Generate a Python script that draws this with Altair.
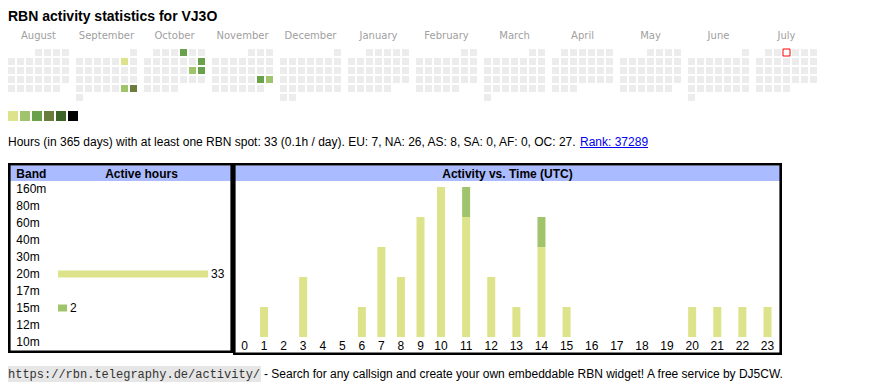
import datetime as dt
import altair as alt
import pandas as pd

# ---------------- data ----------------
TITLE = "RBN activity statistics for VJ3O"
months = ["August", "September", "October", "November", "December", "January",
          "February", "March", "April", "May", "June", "July"]
month_years = [2024, 2024, 2024, 2024, 2024, 2025, 2025, 2025, 2025, 2025, 2025, 2025]
month_numbers = [8, 9, 10, 11, 12, 1, 2, 3, 4, 5, 6, 7]
active_dates = ["2024-09-07", "2024-09-28", "2024-09-29", "2024-10-04", "2024-10-13",
                "2024-10-19", "2024-10-20", "2024-11-23", "2024-11-24"]
active_levels = [1, 2, 4, 3, 3, 2, 3, 3, 2]
today = "2025-07-03"
levels = [0, 1, 2, 3, 4, 5, 6]
level_colors = ["#ececec", "#dce38b", "#a0c46c", "#69a24a", "#6a7d3a", "#3d6428", "#000000"]

stats_text = ("Hours (in 365 days) with at least one RBN spot: 33 (0.1h / day). "
              "EU: 7, NA: 26, AS: 8, SA: 0, AF: 0, OC: 27.")
rank_text = "Rank: 37289"

bands = ["160m", "80m", "60m", "40m", "30m", "20m", "17m", "15m", "12m", "10m"]
band_hours = [0, 0, 0, 0, 0, 33, 0, 2, 0, 0]
bar_bands = ["20m", "15m"]
bar_band_colors = ["#dce38b", "#a0c46c"]

hours = [0, 1, 2, 3, 4, 5, 6, 7, 8, 9, 10, 11, 12, 13, 14, 15, 16, 17, 18, 19, 20, 21, 22, 23]
hours_20m = [0, 1, 0, 2, 0, 0, 1, 3, 2, 4, 5, 4, 2, 1, 3, 1, 0, 0, 0, 0, 1, 1, 1, 1]
hours_15m = [0, 0, 0, 0, 0, 0, 0, 0, 0, 0, 0, 1, 0, 0, 1, 0, 0, 0, 0, 0, 0, 0, 0, 0]

footer_url = "https://rbn.telegraphy.de/activity/"
footer_text = "- Search for any callsign and create your own embeddable RBN widget! A free service by DJ5CW."

FONT = "Liberation Sans"
HEADER_BG = "#aabbff"
BORDER = 2.6

# ---------------- calendar ----------------
rows = []
for name, y, m in zip(months, month_years, month_numbers):
    first = dt.date(y, m, 1)
    nxt = dt.date(y + (1 if m == 12 else 0), m % 12 + 1, 1)
    off = first.weekday()
    for d in range(1, (nxt - first).days + 1):
        day = dt.date(y, m, d)
        rows.append({"month": name, "dow": day.weekday(), "week": (d - 1 + off) // 7,
                     "date": day.isoformat()})
cal = pd.DataFrame(rows)
cal["level"] = cal["date"].map(dict(zip(active_dates, active_levels))).fillna(0).astype(int)

xm = alt.X("month:N", sort=months,
           scale=alt.Scale(domain=months, paddingInner=7 / 68, paddingOuter=0), axis=None)
xo = alt.XOffset("dow:O", scale=alt.Scale(domain=list(range(7)), paddingInner=2 / 9, paddingOuter=0))
yw = alt.Y("week:O", scale=alt.Scale(domain=list(range(6)), range=[41, 93],
                                     paddingInner=2 / 9, paddingOuter=0), axis=None)
lvl_color = alt.Color("level:O", scale=alt.Scale(domain=levels, range=level_colors), legend=None)

cells = alt.Chart(cal).mark_rect().encode(x=xm, xOffset=xo, y=yw, color=lvl_color)
today_cell = alt.Chart(cal[cal["date"] == today]).mark_rect(
    fill="white", stroke="red", strokeWidth=1).encode(x=xm, xOffset=xo, y=yw)
month_labels = alt.Chart(pd.DataFrame({"month": months})).mark_text(
    font="DejaVu Sans", fontSize=10, color="#a0a0a0", baseline="alphabetic").encode(
    x=xm, y=alt.value(31), text="month:N")
title = alt.Chart(pd.DataFrame({"t": [TITLE]})).mark_text(
    font=FONT, fontSize=14, fontWeight="bold", align="left", baseline="alphabetic",
    color="black").encode(x=alt.value(0), y=alt.value(13), text="t:N")
cal_panel = alt.layer(title, month_labels, cells, today_cell).properties(width=809, height=103)

legend_panel = alt.Chart(pd.DataFrame({"level": levels[1:]})).mark_rect().encode(
    x=alt.X("level:O", scale=alt.Scale(paddingInner=2 / 12, paddingOuter=0), axis=None),
    color=lvl_color).properties(width=70, height=10)

# ---------------- stats line ----------------
stats_panel = alt.layer(
    alt.Chart(pd.DataFrame({"t": [stats_text]})).mark_text(
        font=FONT, fontSize=12, align="left", baseline="alphabetic", color="black").encode(
        x=alt.value(0), y=alt.value(25), text="t:N"),
    alt.Chart(pd.DataFrame({"t": [rank_text]})).mark_text(
        font=FONT, fontSize=12, align="left", baseline="alphabetic", color="#0000ee").encode(
        x=alt.value(572), y=alt.value(25), text="t:N"),
    alt.Chart(pd.DataFrame({"t": [rank_text]})).mark_rule(color="#0000ee", strokeWidth=1).encode(
        x=alt.value(572), x2=alt.value(640), y=alt.value(26.5)),
).properties(width=640, height=42)

one = pd.DataFrame({"a": [0]})


def frame(w, h):
    bg = alt.Chart(one).mark_rect(color=HEADER_BG).encode(
        x=alt.value(0), x2=alt.value(w), y=alt.value(2.5), y2=alt.value(18))
    border = alt.Chart(one).mark_rect(filled=False, stroke="black", strokeWidth=BORDER).encode(
        x=alt.value(BORDER / 2), x2=alt.value(w - BORDER / 2),
        y=alt.value(BORDER / 2), y2=alt.value(h - BORDER / 2))
    return bg, border


# ---------------- band box ----------------
BW, BH = 225, 190
band_df = pd.DataFrame({"band": bands, "hours": band_hours})
band_active = band_df[band_df["hours"] > 0]
yb = alt.Y("band:N", sort=bands, scale=alt.Scale(domain=bands, range=[22.5, 182.5],
                                                 paddingInner=10 / 17, paddingOuter=0), axis=None)
xb = alt.X("hours:Q", scale=alt.Scale(domain=[0, 33], range=[50, 200], padding=0, nice=False), axis=None)
band_color = alt.Color("band:N", scale=alt.Scale(domain=bar_bands, range=bar_band_colors), legend=None)
b_bg, b_border = frame(BW, BH)
band_panel = alt.layer(
    b_bg,
    alt.Chart(pd.DataFrame({"t": ["Band"]})).mark_text(
        font=FONT, fontSize=12, fontWeight="bold", align="left", baseline="alphabetic").encode(
        x=alt.value(8.3), y=alt.value(15), text="t:N"),
    alt.Chart(pd.DataFrame({"t": ["Active hours"]})).mark_text(
        font=FONT, fontSize=12, fontWeight="bold", align="center", baseline="alphabetic").encode(
        x=alt.value(133.5), y=alt.value(15), text="t:N"),
    alt.Chart(band_df).mark_text(font=FONT, fontSize=12, align="left", color="black").encode(
        x=alt.value(8.3), y=yb, text="band:N"),
    alt.Chart(band_active).mark_bar().encode(x=xb, y=yb, color=band_color),
    alt.Chart(band_active).mark_text(font=FONT, fontSize=12, align="left", dx=3, color="black").encode(
        x=xb, y=yb, text="hours:Q"),
    b_border,
).properties(width=BW, height=BH)

# ---------------- activity box ----------------
AW, AH = 549, 192
act = pd.DataFrame({
    "hour": hours + hours,
    "band": ["20m"] * len(hours) + ["15m"] * len(hours),
    "count": hours_20m + hours_15m,
    "rank": [0] * len(hours) + [1] * len(hours),
})
act = act[act["count"] > 0]
xh = alt.X("hour:Q", scale=alt.Scale(domain=[0, 9, 10, 23], range=[11.5, 187.5, 208, 534.5],
                                     padding=0, nice=False, zero=False), axis=None)
a_bg, a_border = frame(AW, AH)
act_panel = alt.layer(
    a_bg,
    alt.Chart(pd.DataFrame({"t": ["Activity vs. Time (UTC)"]})).mark_text(
        font=FONT, fontSize=12, fontWeight="bold", align="center", baseline="alphabetic").encode(
        x=alt.value(AW / 2), y=alt.value(15), text="t:N"),
    alt.Chart(act).mark_bar(size=8).encode(
        x=xh,
        y=alt.Y("count:Q", stack="zero",
                scale=alt.Scale(domain=[0, 5], range=[174, 24], padding=0, nice=False), axis=None),
        color=band_color, order=alt.Order("rank:Q")),
    alt.Chart(pd.DataFrame({"hour": hours})).mark_text(
        font=FONT, fontSize=12, align="center", baseline="alphabetic", color="black").encode(
        x=xh, y=alt.value(187), text="hour:Q"),
    a_border,
).properties(width=AW, height=AH)

boxes = alt.hconcat(band_panel, act_panel, spacing=0).resolve_scale(
    x="independent", y="independent", color="independent")

# ---------------- footer ----------------
footer_panel = alt.layer(
    alt.Chart(one).mark_rect(color="#e6e6e6").encode(
        x=alt.value(0), x2=alt.value(253), y=alt.value(11), y2=alt.value(27)),
    alt.Chart(pd.DataFrame({"t": [footer_url]})).mark_text(
        font="Liberation Mono", fontSize=12, align="left", baseline="alphabetic", color="#333333").encode(
        x=alt.value(0), y=alt.value(23), text="t:N"),
    alt.Chart(pd.DataFrame({"t": [footer_text]})).mark_text(
        font=FONT, fontSize=12, align="left", baseline="alphabetic", color="black").encode(
        x=alt.value(256), y=alt.value(23), text="t:N"),
).properties(width=780, height=30)

chart = alt.vconcat(cal_panel, legend_panel, stats_panel, boxes, footer_panel,
                    spacing=0).resolve_scale(
    x="independent", y="independent", color="independent").properties(
    padding=0).configure_view(stroke=None, strokeWidth=0)

chart.save("out.html", embed_options={"renderer": "svg", "actions": False})
